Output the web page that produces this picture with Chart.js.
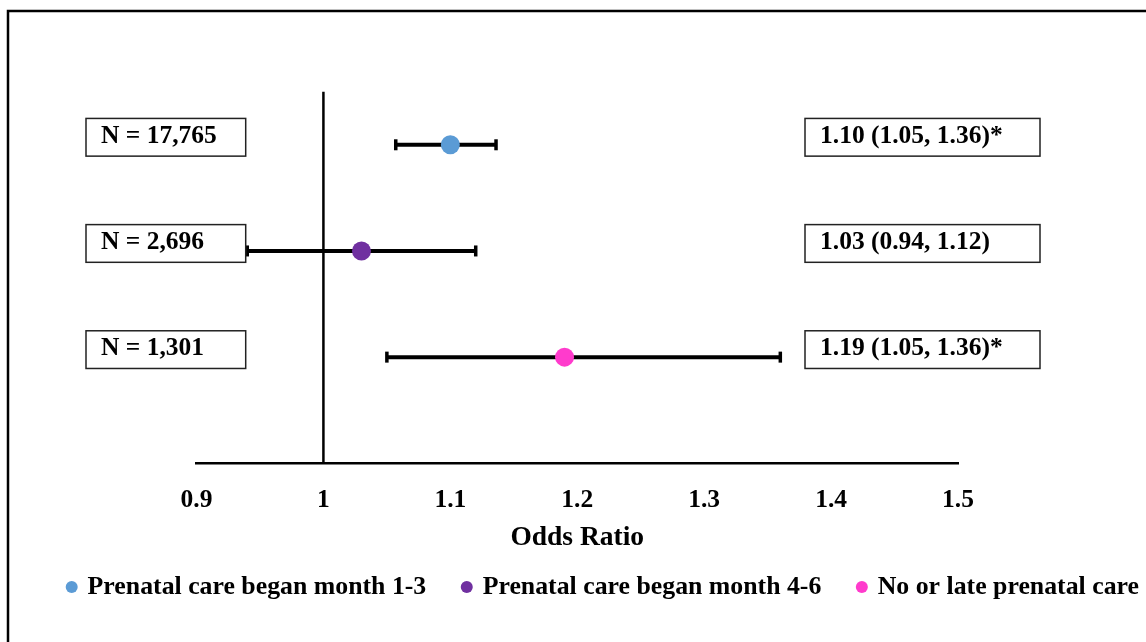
<!DOCTYPE html>
<html>
<head>
<meta charset="utf-8">
<title>Odds Ratio by Prenatal Care Timing</title>
<script src="https://cdn.jsdelivr.net/npm/chart.js@4.4.1/dist/chart.umd.min.js"></script>
<style>
  html, body { margin: 0; padding: 0; background: #fff; }
  #wrap { width: 1146px; height: 642px; }
  canvas { display: block; }
</style>
</head>
<body>
<div id="wrap"><canvas id="forest" width="1146" height="642"></canvas></div>
<script>
// Groups (one row each, top to bottom)
const groups = [
  'Prenatal care began month 1-3',
  'Prenatal care began month 4-6',
  'No or late prenatal care'
];
// Point estimates and confidence-interval ends
const oddsRatio = [1.10, 1.03, 1.19];
const ciLower   = [1.057, 0.94, 1.05];
const ciUpper   = [1.136, 1.12, 1.36];
// Text shown in the boxes either side of the plot
const sampleSizes    = ['N = 17,765', 'N = 2,696', 'N = 1,301'];
const estimateLabels = ['1.10 (1.05, 1.36)*', '1.03 (0.94, 1.12)', '1.19 (1.05, 1.36)*'];
// X-axis tick labels
const tickLabels = ['0.9', '1', '1.1', '1.2', '1.3', '1.4', '1.5'];
const pointColors = ['#5B9BD5', '#7030A0', '#FF3BCC'];

const SERIF = "'Liberation Serif', 'Times New Roman', serif";

// White page with a black frame running off the right and bottom edges
const framePlugin = {
  id: 'frame',
  beforeDraw(chart) {
    const ctx = chart.ctx;
    ctx.save();
    ctx.fillStyle = '#fff';
    ctx.fillRect(0, 0, chart.width, chart.height);
    ctx.strokeStyle = '#000';
    ctx.lineWidth = 2.5;
    ctx.strokeRect(8, 11, chart.width + 40, chart.height + 40);
    ctx.restore();
  }
};

// Line of no effect at OR = 1 and the CI whiskers with end caps
const whiskerPlugin = {
  id: 'whiskers',
  beforeDatasetsDraw(chart) {
    const { ctx, chartArea, scales: { x, y } } = chart;
    ctx.save();
    ctx.strokeStyle = '#000';
    ctx.lineCap = 'butt';

    const x1 = x.getPixelForValue(1);
    ctx.lineWidth = 2.5;
    ctx.beginPath();
    ctx.moveTo(x1, chartArea.top);
    ctx.lineTo(x1, chartArea.bottom);
    ctx.stroke();

    groups.forEach((g, i) => {
      const yy = y.getPixelForValue(i + 1);
      const xl = x.getPixelForValue(ciLower[i]);
      const xr = x.getPixelForValue(ciUpper[i]);
      ctx.lineWidth = 4;
      ctx.beginPath();
      ctx.moveTo(xl, yy);
      ctx.lineTo(xr, yy);
      ctx.stroke();
      ctx.lineWidth = 3.5;
      [xl, xr].forEach(xc => {
        ctx.beginPath();
        ctx.moveTo(xc, yy - 5.5);
        ctx.lineTo(xc, yy + 5.5);
        ctx.stroke();
      });
    });
    ctx.restore();
  }
};

// Boxed sample sizes (left) and estimates (right) for each row
const boxPlugin = {
  id: 'valueBoxes',
  afterDatasetsDraw(chart) {
    const { ctx, scales: { y } } = chart;
    const boxH = 37.7;
    const drawBox = (x0, x1, cy, text) => {
      ctx.fillStyle = '#fff';
      ctx.fillRect(x0, cy - boxH / 2, x1 - x0, boxH);
      ctx.strokeStyle = '#222';
      ctx.lineWidth = 1.5;
      ctx.strokeRect(x0, cy - boxH / 2, x1 - x0, boxH);
      ctx.fillStyle = '#000';
      ctx.fillText(text, x0 + 15, cy + 5.8);
    };
    ctx.save();
    ctx.font = `bold 25.5px ${SERIF}`;
    ctx.textAlign = 'left';
    ctx.textBaseline = 'alphabetic';
    groups.forEach((g, i) => {
      const cy = y.getPixelForValue(i + 1) - 7.5;
      drawBox(86, 245.7, cy, sampleSizes[i]);
      drawBox(805, 1040, cy, estimateLabels[i]);
    });
    ctx.restore();
  }
};

// Put the legend row where it belongs below the axis title
const LEGEND_LEFT = 68.7;
const LEGEND_CENTER_Y = 587;
const legendPlacement = {
  id: 'legendPlacement',
  afterLayout(chart) {
    const lg = chart.legend;
    if (!lg || !lg.lineWidths) return;
    const pad = lg.options.labels.padding;
    const fontSize = lg.options.labels.font.size;
    const start = (lg.left + pad + lg.right - lg.lineWidths[0]) / 2;
    const dx = LEGEND_LEFT - start;
    const dy = LEGEND_CENTER_Y - (lg.top + pad + fontSize / 2);
    lg.left += dx; lg.right += dx;
    lg.top += dy; lg.bottom += dy;
  }
};

const hiddenRowAxis = (position, width) => ({
  type: 'linear',
  position,
  min: 0.5,
  max: 4,
  reverse: true,
  grid: { display: false },
  border: { display: false },
  ticks: { display: false },
  afterFit(scale) { scale.width = width; }
});

new Chart(document.getElementById('forest'), {
  type: 'scatter',
  data: {
    datasets: groups.map((g, i) => ({
      label: g,
      data: [{ x: oddsRatio[i], y: i + 1 }],
      backgroundColor: pointColors[i],
      borderColor: pointColors[i],
      borderWidth: 0,
      pointStyle: 'circle',
      pointRadius: 9.5,
      pointHoverRadius: 9.5
    }))
  },
  options: {
    responsive: false,
    animation: false,
    devicePixelRatio: 1,
    layout: { padding: { top: 91.7, left: 0, right: 0, bottom: 0 } },
    scales: {
      x: {
        type: 'linear',
        position: 'bottom',
        min: 0.9,
        max: 1.5,
        grid: { display: false },
        border: { display: true, color: '#000', width: 2.5 },
        ticks: {
          stepSize: 0.1,
          autoSkip: false,
          maxRotation: 0,
          padding: 14,
          color: '#000',
          font: { family: SERIF, size: 25.5, weight: 'bold' },
          callback: (value, index) => tickLabels[index] ?? ''
        },
        title: {
          display: true,
          text: 'Odds Ratio',
          color: '#000',
          font: { family: SERIF, size: 27.5, weight: 'bold' },
          padding: { top: 0, bottom: 17.3 }
        },
        afterFit(scale) { scale.height = 108.7; }
      },
      y: hiddenRowAxis('left', 196.5),
      yRight: hiddenRowAxis('right', 188)
    },
    plugins: {
      legend: {
        position: 'bottom',
        maxHeight: 70,
        labels: {
          usePointStyle: true,
          boxWidth: 6,
          boxHeight: 8.5,
          padding: 37.5,
          color: '#000',
          font: { family: SERIF, size: 25.8, weight: 'bold' }
        }
      },
      tooltip: { enabled: false }
    }
  },
  plugins: [framePlugin, whiskerPlugin, boxPlugin, legendPlacement]
});
</script>
</body>
</html>
